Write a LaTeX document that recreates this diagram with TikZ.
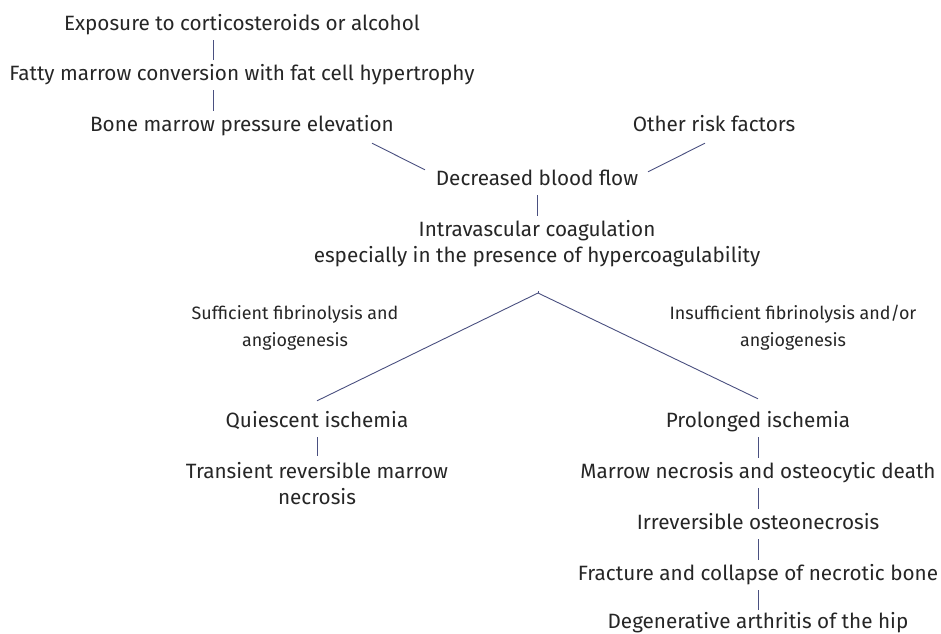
\documentclass[tikz,border=0pt]{standalone}
\usepackage{fontspec}
\setmainfont{Fira Sans}
\usetikzlibrary{calc}
\definecolor{txt}{HTML}{262626}
\definecolor{ln}{HTML}{4A5080}
\begin{document}
\begin{tikzpicture}[x=1pt,y=-1pt,
  box/.style={inner sep=0pt,text=txt,font=\fontsize{20.7}{26}\selectfont,text height=14pt,text depth=4pt,align=center},
  box2/.style={inner sep=0pt,text=txt,font=\fontsize{20.7}{26}\selectfont,align=center,anchor=north},
  lab/.style={inner sep=0pt,text=txt,font=\fontsize{17.9}{27}\selectfont,align=center,anchor=north},
  conn/.style={draw=ln,line width=0.9pt},
  vl/.style={conn,shorten <=6pt,shorten >=6pt}]
\useasboundingbox[fill=white] (0,0) rectangle (941,633);
\node[box] (expo) at (242,25) {Exposure to corticosteroids or alcohol};
\node[box] (fatty) at (242,75) {Fatty marrow conversion with fat cell hypertrophy};
\node[box] (bone) at (242,126) {Bone marrow pressure elevation};
\node[box] (other) at (714,126) {Other risk factors};
\node[box] (decr) at (537,180) {Decreased blood flow};
\node[box] (intra) at (537,231) {Intravascular coagulation};
\node[box] (esp) at (537,257) {especially in the presence of hypercoagulability};
\coordinate (br) at (538,293);
\node[lab] (suff) at (295,305) {Sufficient fibrinolysis and\\angiogenesis};
\node[lab] (insuff) at (793,305) {Insufficient fibrinolysis and/or\\angiogenesis};
\node[box] (quies) at (317,422) {Quiescent ischemia};
\node[box2] (trans) at (317,462) {Transient reversible marrow\\necrosis};
\node[box] (prol) at (758,422) {Prolonged ischemia};
\node[box] (marrow) at (758,473) {Marrow necrosis and osteocytic death};
\node[box] (irr) at (758,524) {Irreversible osteonecrosis};
\node[box] (frac) at (758,575) {Fracture and collapse of necrotic bone};
\node[box] (deg) at (758,623) {Degenerative arthritis of the hip};

\draw[vl] ($(expo.south)+(-29,0)$) -- ($(fatty.north)+(-29,0)$);
\draw[vl] ($(fatty.south)+(-29,0)$) -- ($(bone.north)+(-29,0)$);
\draw[conn] ($(bone.south)+(130,8)$) -- ($(decr.north)+(-112,-1)$);
\draw[conn] ($(other.south)+(-9,8)$) -- ($(decr.north)+(111,1)$);
\draw[vl] (decr.south) -- (intra.north);
\draw[conn] ($(esp.south)+(1,25)$) -- (br);
\draw[conn] (br) -- ($(quies.north)+(0,-12)$);
\draw[conn] (br) -- ($(prol.north)+(0,-14)$);
\draw[vl] (quies.south) -- (trans.north);
\draw[vl] (prol.south) -- (marrow.north);
\draw[vl] (marrow.south) -- (irr.north);
\draw[vl] (irr.south) -- (frac.north);
\draw[conn,shorten <=6pt,shorten >=4pt] (frac.south) -- (deg.north);
\end{tikzpicture}
\end{document}
